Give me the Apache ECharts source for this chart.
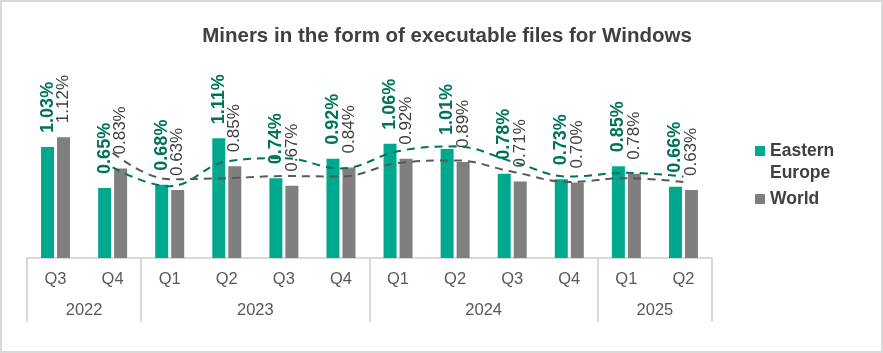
<!DOCTYPE html>
<html>
<head>
<meta charset="utf-8">
<script src="https://cdn.jsdelivr.net/npm/echarts@6/dist/echarts.min.js"></script>
<style>
  html, body { margin: 0; padding: 0; background: #fff; }
  #frame { width: 883px; height: 353px; box-sizing: border-box; border: 2px solid #d9d9d9; position: relative; }
  #chart { position: absolute; left: -2px; top: -2px; width: 883px; height: 353px; }
</style>
</head>
<body>
<div id="frame"><div id="chart"></div></div>
<script>
// ---- data ----
const quarters = ['Q3', 'Q4', 'Q1', 'Q2', 'Q3', 'Q4', 'Q1', 'Q2', 'Q3', 'Q4', 'Q1', 'Q2'];
const years = ['2022', '2023', '2024', '2025'];
const quartersPerYear = [2, 4, 4, 2];
const easternEurope = [1.03, 0.65, 0.68, 1.11, 0.74, 0.92, 1.06, 1.01, 0.78, 0.73, 0.85, 0.66];
const world = [1.12, 0.83, 0.63, 0.85, 0.67, 0.84, 0.92, 0.89, 0.71, 0.70, 0.78, 0.63];
// dashed trend lines (2-period moving average)
const easternTrend = [null, 0.84, 0.665, 0.895, 0.925, 0.83, 0.99, 1.035, 0.895, 0.755, 0.79, 0.755];
const worldTrend = [null, 0.975, 0.73, 0.74, 0.76, 0.755, 0.88, 0.905, 0.80, 0.705, 0.74, 0.705];

// year group boundaries and centres on a 0..12 scale
const boundaries = [0];
const centres = [];
quartersPerYear.forEach(n => {
  const start = boundaries[boundaries.length - 1];
  centres.push(start + n / 2);
  boundaries.push(start + n);
});

const FONT = '"Liberation Sans", Arial, sans-serif';
const chart = echarts.init(document.getElementById('chart'), null, { renderer: 'canvas' });

const pctFmt = p => p.value.toFixed(2) + '%';

chart.setOption({
  animation: false,
  backgroundColor: 'transparent',
  title: {
    text: 'Miners in the form of executable files for Windows',
    left: 447,
    textAlign: 'center',
    top: 26,
    padding: 0,
    textStyle: { fontFamily: FONT, fontWeight: 'bold', fontSize: 20.5, color: '#404040' }
  },
  legend: {
    orient: 'vertical',
    left: 755,
    top: 118,
    padding: 0,
    itemWidth: 10,
    itemHeight: 10,
    itemGap: 4,
    icon: 'rect',
    // first item: blank leading line so the icon lines up with "Eastern"
    formatter: name => name.indexOf(' ') >= 0 ? '\n' + name.replace(' ', '\n') : name,
    textStyle: { fontFamily: FONT, fontWeight: 'bold', fontSize: 17.5, color: '#404040', lineHeight: 22 },
    data: ['Eastern Europe', 'World']
  },
  grid: { left: 27, right: 171, top: 107, bottom: 95, containLabel: false },
  xAxis: [
    {
      type: 'category',
      data: quarters,
      position: 'bottom',
      axisLine: { show: true, lineStyle: { color: '#d9d9d9', width: 2 } },
      axisTick: { show: false },
      axisLabel: { margin: 13, fontFamily: FONT, fontSize: 16.5, color: '#595959' },
      splitLine: { show: false }
    },
    {
      type: 'value',
      min: 0,
      max: boundaries[boundaries.length - 1],
      position: 'bottom',
      offset: 0,
      axisLine: { show: false },
      axisTick: { show: true, customValues: boundaries, length: 64, inside: false, lineStyle: { color: '#d9d9d9', width: 2 } },
      axisLabel: {
        customValues: centres,
        margin: 44,
        fontFamily: FONT, fontSize: 16.5, color: '#595959',
        formatter: v => years[centres.indexOf(v)] || ''
      },
      splitLine: { show: false }
    }
  ],
  yAxis: {
    type: 'value', min: 0, max: 1.4, show: false,
    splitLine: { show: false }
  },
  series: [
    {
      name: 'Eastern Europe', type: 'bar', data: easternEurope,
      barWidth: 13, barGap: '23%',
      itemStyle: { color: '#00a88e' },
      label: {
        show: true, position: 'top', rotate: 90, align: 'left', verticalAlign: 'middle', distance: 14,
        formatter: pctFmt, fontFamily: FONT, fontWeight: 'bold', fontSize: 18, color: '#00735c'
      },
      z: 3
    },
    {
      name: 'World', type: 'bar', data: world,
      barWidth: 13,
      itemStyle: { color: '#7f7f7f' },
      label: {
        show: true, position: 'top', rotate: 90, align: 'left', verticalAlign: 'middle', distance: 14,
        formatter: pctFmt, fontFamily: FONT, fontSize: 17, color: '#404040'
      },
      z: 3
    },
    {
      name: 'Eastern trend', type: 'line', data: easternTrend, smooth: 0.4,
      symbol: 'none', connectNulls: false,
      lineStyle: { color: '#00735c', width: 2, type: [8, 6] },
      z: 4, silent: true
    },
    {
      name: 'World trend', type: 'line', data: worldTrend, smooth: 0.4,
      symbol: 'none', connectNulls: false,
      lineStyle: { color: '#595959', width: 2, type: [8, 6] },
      z: 4, silent: true
    }
  ]
});
</script>
</body>
</html>
